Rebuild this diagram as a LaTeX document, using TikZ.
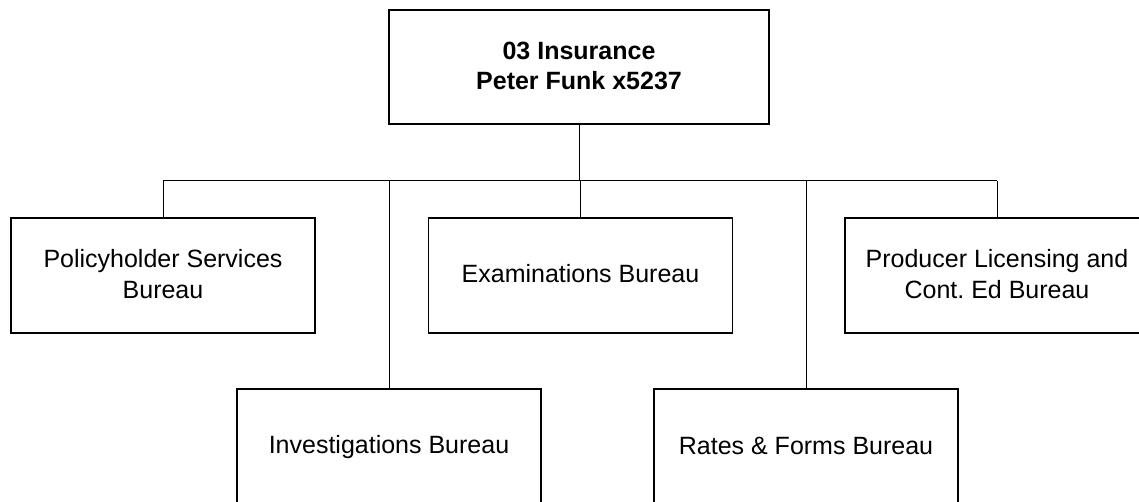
\documentclass[tikz,border=0pt]{standalone}
\usepackage{fontspec}
\setmainfont{Liberation Sans}
\frenchspacing
\newcommand\lnstrut{\rule[-5pt]{0pt}{25pt}}
\begin{document}
\begin{tikzpicture}[x=1pt,y=-1pt,
  box/.style={draw=black, line width=1.6pt, fill=white, inner sep=0pt, outer sep=0pt,
    minimum width=304pt, minimum height=115pt, align=center,
    font=\fontsize{25}{30.5}\selectfont},
  topbox/.style={box, minimum width=380pt, minimum height=114pt,
    font=\fontsize{25}{30}\selectfont\bfseries},
  link/.style={draw=black, line width=1pt}]
\useasboundingbox (0,0) rectangle (1139,502);
\clip (0,0) rectangle (1139,502);
\fill[white] (0,0) rectangle (1139,502);
\node[topbox] (top) at (579,67) {\lnstrut 03 Insurance\\Peter Funk x5237\lnstrut};
\node[box] (pol) at (163,275.5) {\lnstrut Policyholder Services\\Bureau\lnstrut};
\node[box] (exa) at (580.5,275.5) {\lnstrut Examinations Bureau};
\node[box] (pro) at (997,275.5) {\lnstrut Producer Licensing and\\Cont.\ Ed Bureau\lnstrut};
\node[box] (inv) at (389,446.5) {\lnstrut Investigations Bureau};
\node[box] (rat) at (806,446.5) {\lnstrut Rates \& Forms Bureau};
\coordinate (hl) at (163,181);
\coordinate (hr) at (997,181);
\draw[link] (top.south) -- (top.south |- hl);
\draw[link] (hl) -- (hr);
\draw[link] (pol.north |- hl) -- (pol.north);
\draw[link] (inv.north |- hl) -- (inv.north);
\draw[link] (exa.north |- hl) -- (exa.north);
\draw[link] (rat.north |- hl) -- (rat.north);
\draw[link] (pro.north |- hl) -- (pro.north);
\end{tikzpicture}
\end{document}
